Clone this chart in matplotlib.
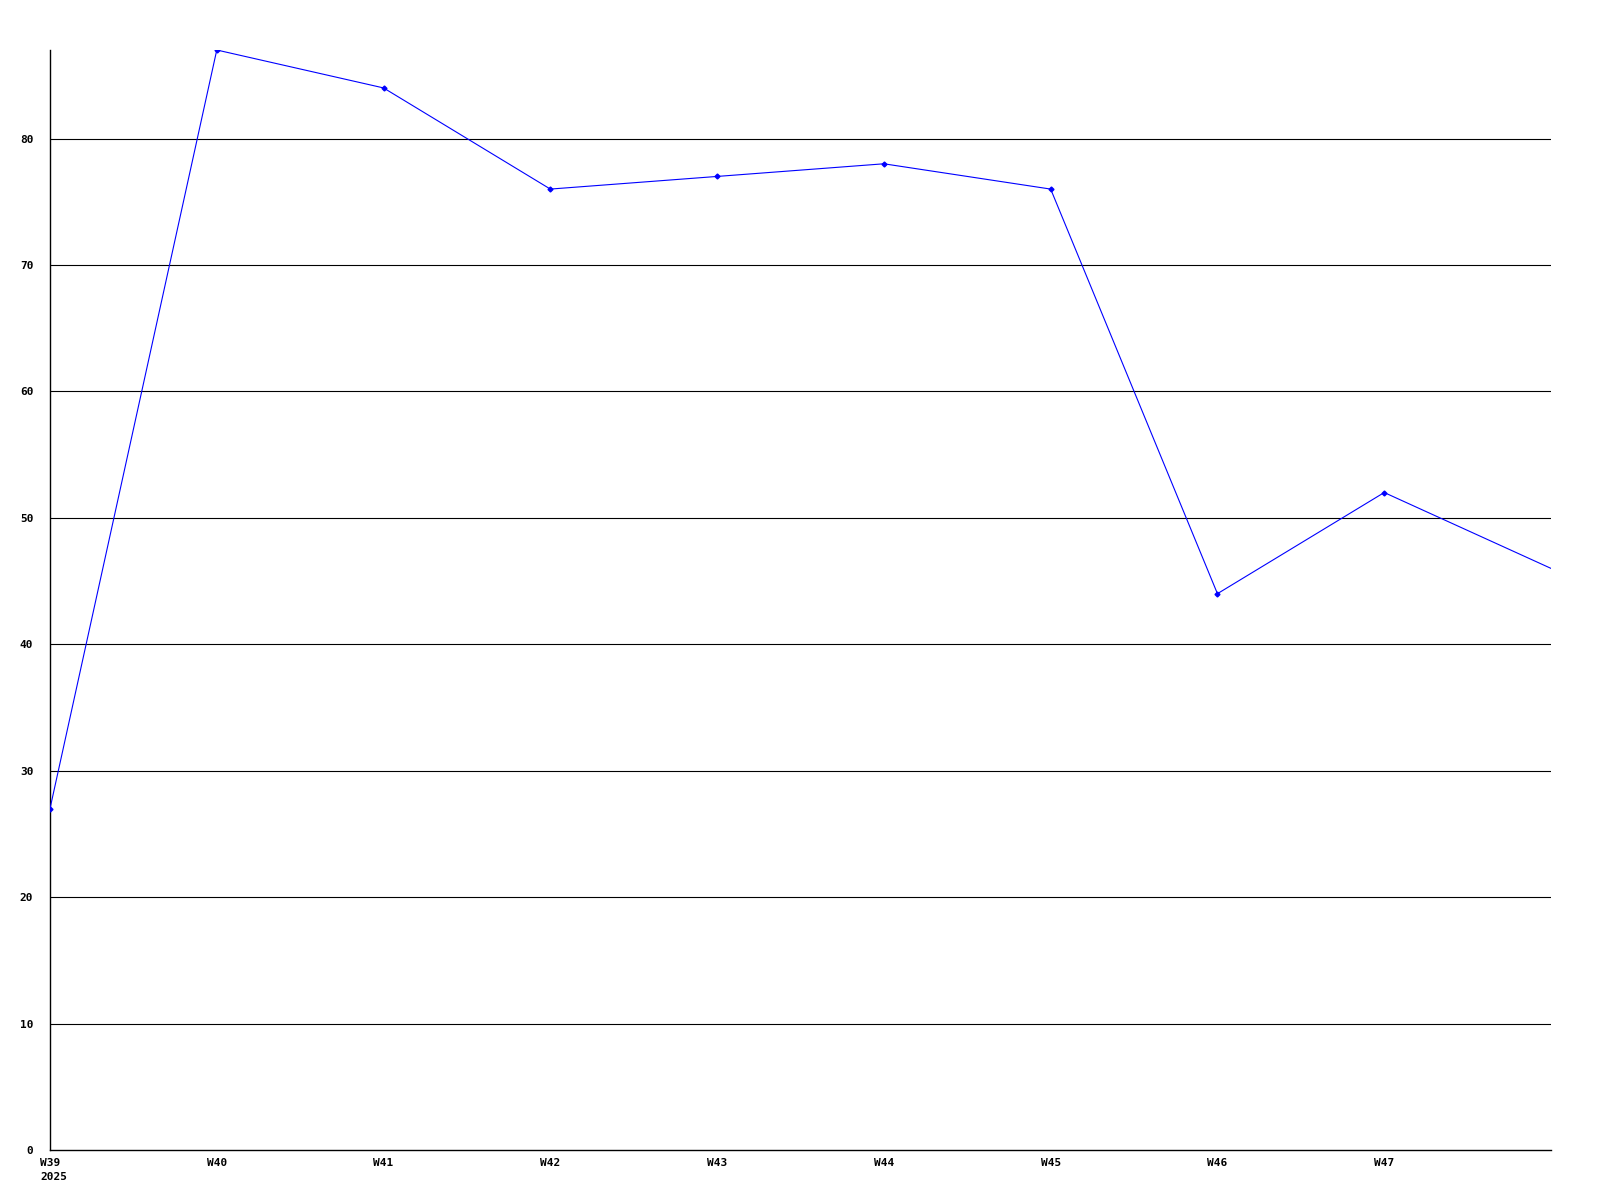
import matplotlib
matplotlib.use("Agg")
import matplotlib.pyplot as plt
from matplotlib.transforms import blended_transform_factory, offset_copy

# weekly values
weeks = ["W39", "W40", "W41", "W42", "W43", "W44", "W45", "W46", "W47", ""]
values = [27, 87, 84, 76, 77, 78, 76, 44, 52, 46]
y_ticks = [0, 10, 20, 30, 40, 50, 60, 70, 80]
year_label = "2025"

fig = plt.figure(figsize=(16, 12), dpi=100)
ax = fig.add_axes([50 / 1600, 50 / 1200, 1501 / 1600, 1100 / 1200])

x = list(range(len(values)))
ax.set_xlim(0, len(values) - 1)
ax.set_ylim(0, 87)

# horizontal grid
for t in y_ticks[1:]:
    ax.axhline(t, color="black", linewidth=0.8, zorder=1)

# last point runs off the right edge, no marker there
ax.plot(x, values, color="#0000ff", linewidth=0.8, marker="D",
        markersize=2.5, markevery=list(range(len(values) - 1)), zorder=3)

for side in ["top", "right"]:
    ax.spines[side].set_visible(False)
for side in ["left", "bottom"]:
    ax.spines[side].set_color("black")
    ax.spines[side].set_linewidth(1.0)

font = dict(fontfamily="DejaVu Sans Mono", fontweight="bold", fontsize=8)
ax.set_xticks(x[:-1])
ax.set_xticklabels(weeks[:-1], **font)
ax.set_yticks(y_ticks)
ax.set_yticklabels([str(t) for t in y_ticks], **font)
ax.tick_params(axis="both", length=0)
ax.tick_params(axis="y", pad=12)
ax.tick_params(axis="x", pad=6)

# year under the first week, left aligned with it
trans = blended_transform_factory(ax.transData, ax.transAxes)
trans = offset_copy(trans, fig=fig, x=-10, y=-22, units="dots")
ax.text(x[0], 0, year_label, transform=trans, ha="left", va="top",
        **font)

fig.savefig("out.png", dpi=100, facecolor="white")
